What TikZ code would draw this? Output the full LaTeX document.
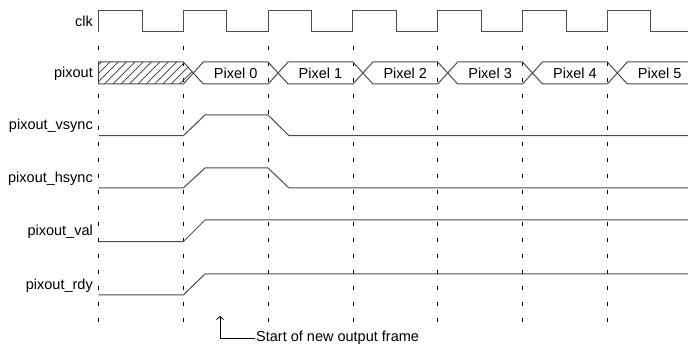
\documentclass[tikz,border=0pt]{standalone}
\usepackage{fontspec}
\setmainfont{Liberation Sans}
\usetikzlibrary{patterns.meta, arrows.meta}

\tikzset{
	signal/.style={draw=black!70, line width=1pt},
	tick line/.style={draw=black, line width=0.8pt, dash pattern=on 4pt off 12pt},
	sig name/.style={anchor=base east, inner sep=0pt},
	hatch/.style={pattern={Lines[angle=45, distance=5.9pt, line width=0.7pt]}, pattern color=black!80},
}

\begin{document}
\begin{tikzpicture}[x=1pt, y=-1pt, font=\fontsize{14.5}{17}\selectfont]
	\useasboundingbox (0,0) rectangle (688,347);
	\clip (0,0) rectangle (688,347);

	\foreach \i in {0,...,6}
		\draw [tick line] ({98.5+84.8*\i}, 46) -- ({98.5+84.8*\i}, 322);

	\foreach \i in {0,...,6} {
		\pgfmathsetmacro{\xa}{98.5+84.8*\i}
		\draw [signal] (\xa, 32) -- (\xa, 11) -- ({\xa+43.5}, 11) -- ({\xa+43.5}, 32) -- ({\xa+84.8}, 32);
	}

	\draw [signal, hatch] (193.3, 73) -- (183.3, 62) -- (98.5, 62) -- (98.5, 84) -- (183.3, 84) -- cycle;
	\foreach \i in {0,...,5} {
		\pgfmathsetmacro{\xa}{183.3+84.8*\i}
		\pgfmathsetmacro{\xb}{\xa+84.8}
		\draw [signal] ({\xa+10}, 73) -- ({\xa+20}, 62) -- (\xb, 62) -- ({\xb+10}, 73) -- (\xb, 84) -- ({\xa+20}, 84) -- cycle;
		\node (px\i) at ({(\xa+20+\xb)/2}, 73) {Pixel \i};
	}

	\draw [signal] (98.5, 135.7) -- (183.3, 135.7) -- (205, 115) -- (268, 115) -- (289, 135.7) -- (688, 135.7);
	\draw [signal] (98.5, 188) -- (183.3, 188) -- (205, 168) -- (268, 168) -- (289, 188) -- (688, 188);
	\draw [signal] (98.5, 241.7) -- (183.3, 241.7) -- (205, 220) -- (688, 220);
	\draw [signal] (98.5, 295) -- (183.3, 295) -- (205, 274) -- (688, 274);

	\node [sig name] (clk) at (93, 26.5) {clk};
	\node [sig name] (pixout) at (93, 78) {pixout};
	\node [sig name] (vsync) at (93, 130) {pixout\_vsync};
	\node [sig name] (hsync) at (93, 183) {pixout\_hsync};
	\node [sig name] (val) at (93, 236) {pixout\_val};
	\node [sig name] (rdy) at (93, 289.5) {pixout\_rdy};

	\coordinate (frame) at (220, 316);
	\node [anchor=west, inner sep=1pt] (note) at (255, 338) {Start of new output frame};
	\draw [line width=0.8pt, -{Straight Barb[length=3pt, width=7pt]}] (note.west) -| (frame);
\end{tikzpicture}
\end{document}
